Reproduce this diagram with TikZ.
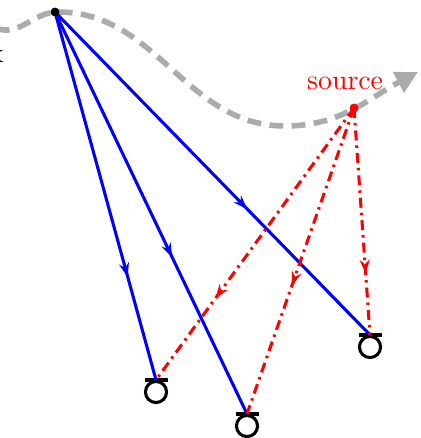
\documentclass[tikz,border=0pt]{standalone}
\usepackage{amsmath}
\usepackage{xcolor}
\usetikzlibrary{arrows.meta,calc,positioning,decorations.markings}

\tikzset{
  ray/.style={blue, line width=1.1pt},
  echo/.style={red, line width=1.1pt, dash pattern=on 3.6pt off 1.8pt on 0.9pt off 1.8pt},
  midarrow/.style={postaction={decorate}, decoration={markings,
      mark=at position #1 with {\arrow{Stealth[length=5pt,width=3.6pt]}}}},
  receiver/.style={circle, draw=black, line width=1.1pt, minimum size=7.6pt, inner sep=0pt},
}

\begin{document}
\begin{tikzpicture}[x=0.36pt, y=-0.36pt, >=stealth]
  \useasboundingbox (0,0) rectangle (420,438);

  % moving path of the source
  \draw[black!33, line width=2pt, dash pattern=on 5pt off 3pt, -{Triangle[length=8pt,width=8pt]}]
    (-4,28) to[out=-22,in=180] (58,12) to[out=0,in=180] (285,126) to[out=0,in=208] (418,72);

  \coordinate (tx) at (55,12);
  \coordinate (src) at (354,108);

  % receivers
  \node[receiver] (rA) at (156,392) {};
  \node[receiver] (rB) at (247,426) {};
  \node[receiver] (rC) at (370,347) {};
  \foreach \r in {rA,rB,rC}
    \draw[line width=1.2pt] ($(\r.north)+(-11.5,0)$) -- ($(\r.north)+(11.5,0)$);

  % direct rays
  \draw[ray, midarrow=0.72] (tx) -- (rA.north);
  \draw[ray, midarrow=0.61] (tx) -- (rB.north);
  \draw[ray, midarrow=0.61] (tx) -- (rC.north);

  % rays from the source
  \draw[echo, midarrow=0.70] (src) -- (rA.north);
  \draw[echo, midarrow=0.58] (src) -- (rB.north);
  \draw[echo, midarrow=0.73] (src) -- (rC.north);

  \fill (tx) circle (1.6pt);
  \fill[red] (src) circle (1.6pt) node[above left=3pt and -14pt] {source};
  \node[inner sep=0pt, anchor=base east] (lbl) at (4,63) {x};

\end{tikzpicture}
\end{document}
